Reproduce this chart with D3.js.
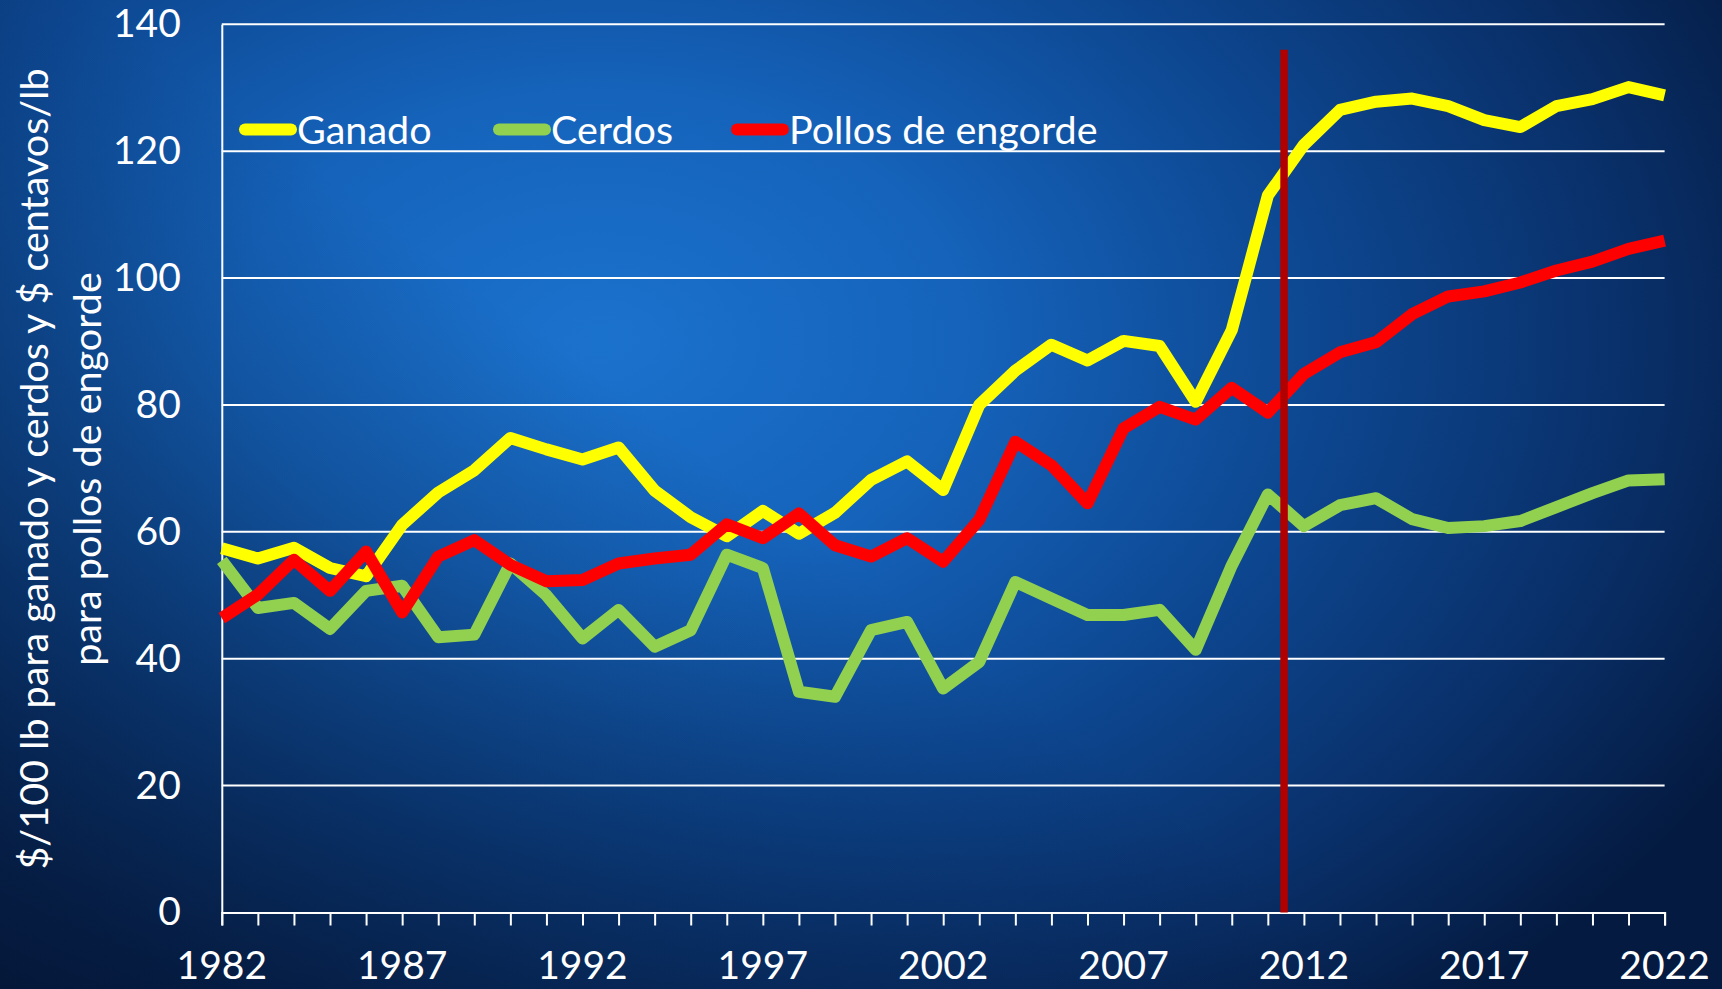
<!DOCTYPE html>
<html>
<head>
<meta charset="utf-8">
<script src="https://cdn.jsdelivr.net/npm/d3@7"></script>
<style>
  html, body { margin: 0; padding: 0; overflow: hidden; }
  body { width: 1722px; height: 989px; }
  text { font-family: Lato, "Open Sans", sans-serif; fill: #fff; }
</style>
</head>
<body>
<div id="wrapper"></div>
<script>
// values
var years = d3.range(1982, 2023)

var ganado = [57.4, 55.8, 57.5, 54.3, 53.0, 61.1, 66.2, 69.7, 74.8, 73.0,
    71.4, 73.3, 66.5, 62.3, 59.3, 63.3, 59.7, 63.0, 68.2, 71.1,
    66.6, 80.0, 85.4, 89.5, 87.0, 90.1, 89.3, 80.5, 91.8, 113.0,
    121.0, 126.5, 127.8, 128.3, 127.1, 124.9, 123.8, 127.1, 128.2, 130.1, 128.8]

var cerdos = [55.5, 48.0, 48.8, 44.7, 50.7, 51.5, 43.4, 43.8, 55.0, 50.0,
    43.2, 47.7, 41.9, 44.5, 56.4, 54.3, 34.8, 34.0, 44.5, 45.8,
    35.3, 39.5, 52.1, 49.5, 46.9, 46.9, 47.7, 41.4, 54.7, 65.9,
    60.9, 64.2, 65.3, 62.0, 60.6, 60.9, 61.7, 63.9, 66.1, 68.1, 68.3]

var pollos = [46.4, 50.1, 55.6, 50.7, 56.9, 47.3, 56.1, 58.7, 54.8, 52.2,
    52.4, 55.0, 55.8, 56.4, 61.2, 59.0, 62.9, 57.9, 56.1, 59.0,
    55.3, 61.9, 74.2, 70.5, 64.5, 76.3, 79.7, 77.7, 82.7, 78.8,
    84.9, 88.3, 89.9, 94.3, 97.1, 97.9, 99.3, 101.2, 102.6, 104.6, 105.9]

var seriesNames = ['Ganado', 'Cerdos', 'Pollos de engorde']
var seriesColors = ['#ffff00', '#92d050', '#ff0000']
var yTicks = [0, 20, 40, 60, 80, 100, 120, 140]
var xTicks = [1982, 1987, 1992, 1997, 2002, 2007, 2012, 2017, 2022]
var markerYear = [2011.45]
var yTitle = ['$/100 lb para ganado y cerdos y $ centavos/lb', 'para pollos de engorde']

var allSeries = [ganado, cerdos, pollos]

var W = 1722, H = 989
var margin = { top: 24.3, right: 57.4, bottom: 76.5, left: 221.8 }
var width = W - margin.left - margin.right
var height = H - margin.top - margin.bottom

const svg = d3.select('#wrapper')
    .append('svg')
    .attr('width', W)
    .attr('height', H)

// background: radial blue glow + darkening toward bottom-left
var defs = svg.append('defs')
var grad = defs.append('radialGradient')
    .attr('id', 'bg')
    .attr('gradientUnits', 'userSpaceOnUse')
    .attr('cx', 600).attr('cy', 340).attr('r', 1300)
    .attr('gradientTransform', 'translate(600,340) scale(1,0.68) translate(-600,-340)')
grad.selectAll('stop')
    .data([['0%', '#1b72cd'], ['28%', '#1563bb'], ['55%', '#0d4791'], ['80%', '#092f68'], ['100%', '#041a40']])
    .join('stop')
    .attr('offset', d => d[0])
    .attr('stop-color', d => d[1])

var shade = defs.append('linearGradient')
    .attr('id', 'shade')
    .attr('gradientUnits', 'userSpaceOnUse')
    .attr('x1', 700).attr('y1', 450).attr('x2', 250).attr('y2', 1050)
shade.selectAll('stop')
    .data([['0%', 0], ['100%', 0.55]])
    .join('stop')
    .attr('offset', d => d[0])
    .attr('stop-color', '#020a1e')
    .attr('stop-opacity', d => d[1])

svg.append('rect')
    .attr('width', W).attr('height', H)
    .attr('fill', 'url(#bg)')
svg.append('rect')
    .attr('width', W).attr('height', H)
    .attr('fill', 'url(#shade)')

var bounds = svg.append('g')
    .attr('transform', 'translate(' + margin.left + ',' + margin.top + ')')

var xScale = d3.scaleLinear()
    .domain([1982, 2022])
    .range([0, width])

var yScale = d3.scaleLinear()
    .domain([0, 140])
    .range([height, 0])

// gridlines
bounds.append('g')
    .selectAll('line')
    .data(yTicks.slice(1))
    .join('line')
    .attr('x1', 0).attr('x2', width)
    .attr('y1', d => yScale(d)).attr('y2', d => yScale(d))
    .attr('stroke', '#fff')
    .attr('stroke-width', 2)

// y axis
var yAxis = bounds.append('g')
    .call(d3.axisLeft(yScale).tickValues(yTicks).tickSize(0).tickPadding(41))
yAxis.select('.domain').attr('stroke', '#fff').attr('stroke-width', 2)
yAxis.selectAll('text')
    .style('font-size', '39px')
    .attr('fill', '#fff')

// x axis
var xAxis = bounds.append('g')
    .attr('transform', 'translate(0,' + height + ')')
    .call(d3.axisBottom(xScale).tickValues(years).tickSize(13).tickFormat(''))
xAxis.select('.domain').attr('stroke', '#fff').attr('stroke-width', 2)
xAxis.selectAll('.tick line').attr('stroke', '#fff').attr('stroke-width', 2)

bounds.append('g')
    .selectAll('text')
    .data(xTicks)
    .join('text')
    .attr('x', d => xScale(d))
    .attr('y', height + 67)
    .attr('text-anchor', 'middle')
    .style('font-size', '39px')
    .text(d => d)

// series lines
var lineGenerator = d3.line()
    .x((d, i) => xScale(years[i]))
    .y(d => yScale(d))

bounds.append('g')
    .selectAll('path')
    .data(allSeries)
    .join('path')
    .attr('d', d => lineGenerator(d))
    .attr('fill', 'none')
    .attr('stroke', (d, i) => seriesColors[i])
    .attr('stroke-width', 12)
    .attr('stroke-linejoin', 'round')

// vertical marker
bounds.selectAll('.marker')
    .data(markerYear)
    .join('line')
    .attr('class', 'marker')
    .attr('x1', d => xScale(d)).attr('x2', d => xScale(d))
    .attr('y1', yScale(136)).attr('y2', height)
    .attr('stroke', '#b00000')
    .attr('stroke-width', 7.5)

// legend
var legendX = [239, 493, 731]
var legend = svg.append('g')
    .selectAll('g')
    .data(seriesNames)
    .join('g')
    .attr('transform', (d, i) => 'translate(' + legendX[i] + ',129.5)')
legend.append('line')
    .attr('x1', 6).attr('x2', 52)
    .attr('stroke', (d, i) => seriesColors[i])
    .attr('stroke-width', 12)
    .attr('stroke-linecap', 'round')
legend.append('text')
    .attr('x', 58)
    .attr('dy', '0.36em')
    .style('font-size', '39.5px')
    .text(d => d)

// y title
svg.append('g')
    .selectAll('text')
    .data(yTitle)
    .join('text')
    .attr('transform', (d, i) => 'translate(' + (34 + i * 53) + ',469) rotate(-90)')
    .attr('text-anchor', 'middle')
    .attr('dy', '0.36em')
    .style('font-size', '39.5px')
    .text(d => d)
</script>
</body>
</html>
